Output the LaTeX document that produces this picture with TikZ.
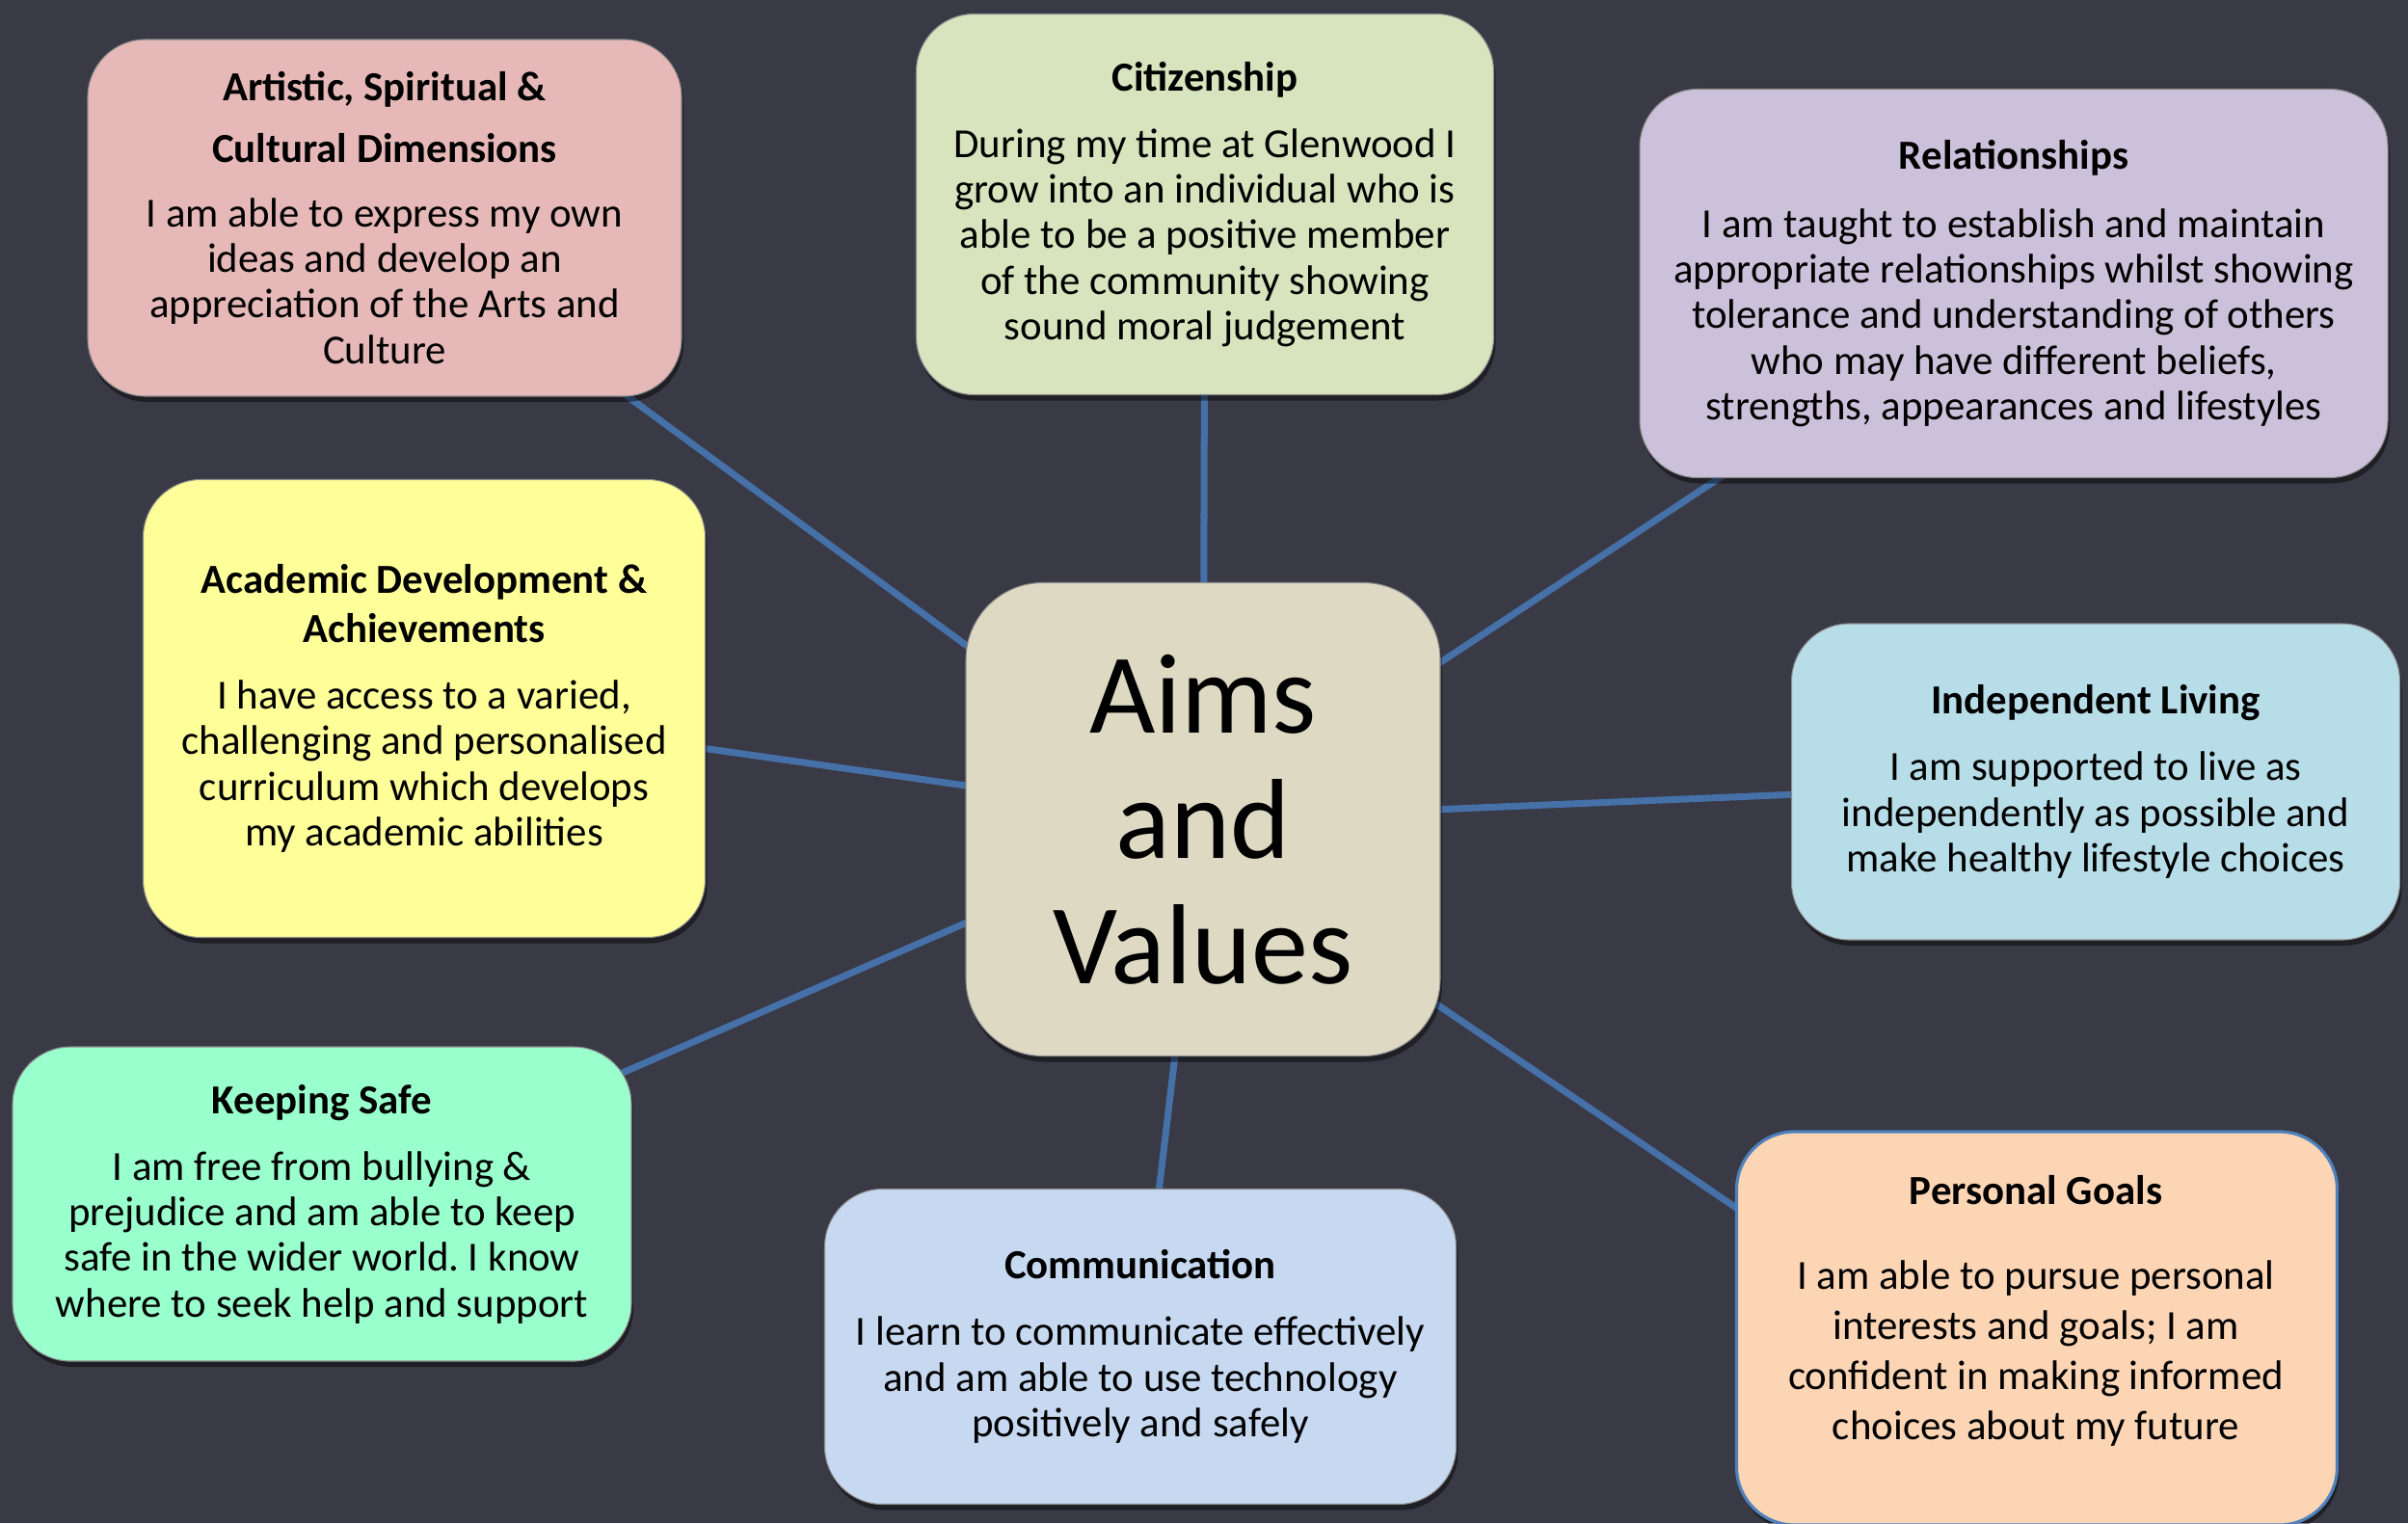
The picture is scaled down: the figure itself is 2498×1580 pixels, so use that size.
\documentclass[tikz,border=0pt]{standalone}
\usepackage{fontspec}
\setmainfont{Carlito}
\usetikzlibrary{shadows}
\frenchspacing
\pgfdeclarelayer{bg}
\pgfdeclarelayer{lines}
\pgfsetlayers{bg,lines,main}
\definecolor{bgcol}{HTML}{393A45}
\definecolor{artcol}{HTML}{E6B9B8}
\definecolor{citcol}{HTML}{D7E4BD}
\definecolor{relcol}{HTML}{CCC1DA}
\definecolor{acadcol}{HTML}{FFFF99}
\definecolor{ctrcol}{HTML}{DDD9C3}
\definecolor{indcol}{HTML}{B7DEE8}
\definecolor{safecol}{HTML}{99FFCC}
\definecolor{commcol}{HTML}{C6D9F1}
\definecolor{pgcol}{HTML}{FCD5B5}
\definecolor{pgborder}{HTML}{4F81BD}
\definecolor{linkcol}{HTML}{4570A8}
\begin{document}
\begin{tikzpicture}[x=0.1mm,y=-0.1mm,
  box/.style={rounded corners=6mm, inner sep=0pt, draw=black!45, line width=0.3pt,
    align=center, text=black, font=\fontsize{12.2}{13.46}\selectfont\frenchspacing,
    drop shadow={shadow xshift=0.2mm, shadow yshift=-0.6mm, opacity=0.45, fill=black}},
  txt/.style={align=center, inner sep=0pt, text=black, font=\fontsize{12.2}{14.8}\selectfont\frenchspacing},
  link/.style={draw=linkcol, line width=2pt}]
\useasboundingbox (0,0) rectangle (2498,1580);
\clip (0,0) rectangle (2498,1580);
\begin{pgfonlayer}{bg}
\fill[bgcol] (0,0) rectangle (2498,1580);
\end{pgfonlayer}

\node[box, fill=artcol, minimum width=61.6mm, minimum height=37mm] (art) at (399,226)
 {\textbf{Artistic, Spiritual \&}\\[4.7pt]\textbf{Cultural Dimensions}\\[5.6pt]
  I am able to express my own\\ ideas and develop an\\ appreciation of the Arts and\\ Culture};

\node[box, fill=citcol, minimum width=59.9mm, minimum height=39.5mm] (cit) at (1250,212)
 {\textbf{Citizenship}\\[6.2pt]
  During my time at Glenwood I\\ grow into an individual who is\\ able to be a positive member\\ of the community showing\\ sound moral judgement};

\node[box, fill=relcol, minimum width=77.6mm, minimum height=40.3mm] (rel) at (2089,294)
 {\textbf{Relationships}\\[6.7pt]
  I am taught to establish and maintain\\ appropriate relationships whilst showing\\ tolerance and understanding of others\\ who may have different beliefs,\\ strengths, appearances and lifestyles};

\node[box, fill=acadcol, minimum width=58.3mm, minimum height=47.5mm] (acad) at (440,735)
 {\textbf{Academic Development \&}\\[1pt]\textbf{Achievements}\\[6.2pt]
  I have access to a varied,\\ challenging and personalised\\ curriculum which develops\\ my academic abilities};

\node[box, fill=ctrcol, rounded corners=8mm, minimum width=49.2mm, minimum height=49.1mm,
  font=\fontsize{33.6}{37}\selectfont] (ctr) at (1248,850)
 {Aims\\ and\\ Values};

\node[box, fill=indcol, minimum width=63.1mm, minimum height=32.8mm] (ind) at (2174,811)
 {\textbf{Independent Living}\\[6.2pt]
  I am supported to live as\\ independently as possible and\\ make healthy lifestyle choices};

\node[box, fill=safecol, minimum width=64.2mm, minimum height=32.6mm] (safe) at (334,1249)
 {\textbf{Keeping Safe}\\[6.2pt]
  I am free from bullying \&\\ prejudice and am able to keep\\ safe in the wider world. I know\\ where to seek help and support};

\node[box, fill=commcol, minimum width=65.5mm, minimum height=32.7mm] (comm) at (1183,1397)
 {\textbf{Communication}\\[6.2pt]
  I learn to communicate effectively\\ and am able to use technology\\ positively and safely};

\node[box, fill=pgcol, draw=pgborder, line width=0.9pt, minimum width=62.3mm, minimum height=40.8mm] (pg) at (2113,1378) {};
\node[txt] (pgtext) at (2112,1360)
 {\textbf{Personal Goals}\\[10.2pt]
  I am able to pursue personal\\ interests and goals; I am\\ confident in making informed\\ choices about my future};

\begin{pgfonlayer}{lines}
\draw[link] (ctr.center) -- (art.center);
\draw[link] (ctr.center) -- (cit.center);
\draw[link] (ctr.center) -- (rel.center);
\draw[link] (ctr.center) -- (acad.center);
\draw[link] (ctr.center) -- (ind.center);
\draw[link] (ctr.center) -- (safe.center);
\draw[link] (ctr.center) -- (comm.center);
\draw[link] ([yshift=-2.7mm]ctr.center) -- ([yshift=-8.7mm]pg.center);
\end{pgfonlayer}
\end{tikzpicture}
\end{document}
